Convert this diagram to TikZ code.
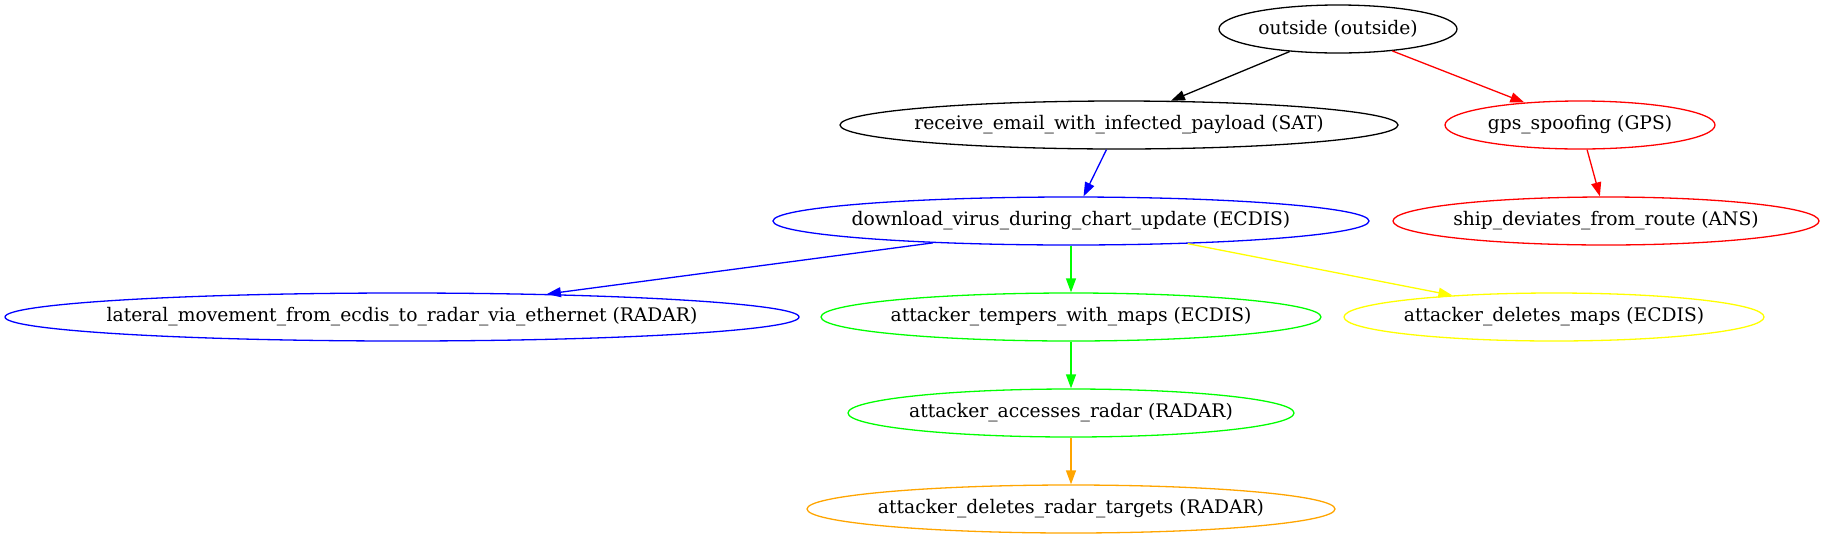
\documentclass[tikz,border=0pt]{standalone}
\usepackage{fontspec}
\setmainfont{DejaVu Serif}
\usetikzlibrary{arrows.meta,shapes.geometric}
\definecolor{gvgreen}{RGB}{0,255,0}
\definecolor{gvyellow}{RGB}{255,255,0}
\definecolor{gvorange}{RGB}{255,165,0}
\newcommand{\steptext}[1]{\makebox[0pt]{#1}}
\tikzset{
	attack/.style={ellipse, draw, line width=1.3pt, inner sep=0pt, minimum height=48pt, font=\fontsize{18.7}{22}\selectfont},
	link/.style={line width=1.3pt, -{Triangle[length=14pt,width=10pt]}}
}

\begin{document}
\begin{tikzpicture}[x=1pt, y=-1pt]
			%%%%% START %%%%%
			\useasboundingbox (0, 0) rectangle (1824, 539);
			
			\node[attack, minimum width=238pt] (outside) at (1338, 29) {\steptext{outside (outside)}};
			
			\node[attack, minimum width=558pt] (receive) at (1119, 125) {\steptext{receive\_email\_with\_infected\_payload (SAT)}};
			\node[attack, draw=red, minimum width=270pt] (gps) at (1580, 125) {\steptext{gps\_spoofing (GPS)}};
			
			\node[attack, draw=blue, minimum width=596pt] (download) at (1071, 221) {\steptext{download\_virus\_during\_chart\_update (ECDIS)}};
			\node[attack, draw=red, minimum width=426pt] (ship) at (1606, 221) {\steptext{ship\_deviates\_from\_route (ANS)}};
			
			\node[attack, draw=blue, minimum width=794pt] (lateral) at (402, 317) {\steptext{lateral\_movement\_from\_ecdis\_to\_radar\_via\_ethernet (RADAR)}};
			\node[attack, draw=gvgreen, minimum width=500pt] (tempers) at (1071, 317) {\steptext{attacker\_tempers\_with\_maps (ECDIS)}};
			\node[attack, draw=gvyellow, minimum width=420pt] (deletemaps) at (1554, 317) {\steptext{attacker\_deletes\_maps (ECDIS)}};
			
			\node[attack, draw=gvgreen, minimum width=446pt] (accesses) at (1071, 413) {\steptext{attacker\_accesses\_radar (RADAR)}};
			
			\node[attack, draw=gvorange, minimum width=528pt] (targets) at (1071, 509) {\steptext{attacker\_deletes\_radar\_targets (RADAR)}};
			
			\draw[link] (outside.205) -- (receive.25);
			\draw[link, red] (outside.338) -- (gps.158);
			\draw[link, blue] (receive.243) -- (download.63);
			\draw[link, red] (gps.286) -- (ship.104);
			
			\draw[link, blue] (download.189) -- (lateral.9);
			\draw[link, gvgreen] (download.south) -- (tempers.north);
			\draw[link, gvyellow] (download.349) -- (deletemaps.168);
			
			\draw[link, gvgreen] (tempers.south) -- (accesses.north);
			\draw[link, gvorange] (accesses.south) -- (targets.north);
			
			%%%%% END %%%%%
\end{tikzpicture}
\end{document}
